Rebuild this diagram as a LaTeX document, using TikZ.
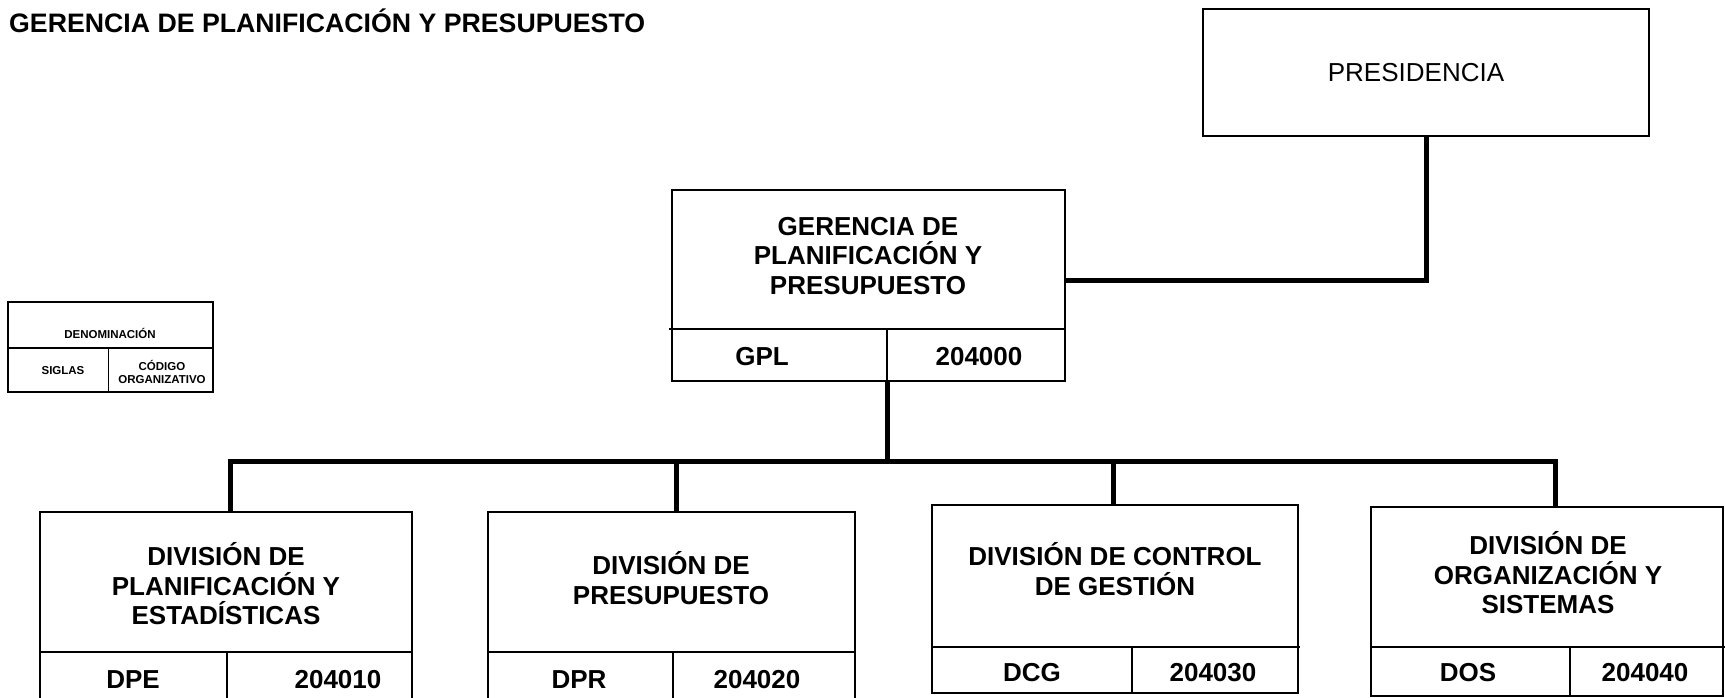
\documentclass[tikz,border=0pt]{standalone}
\usepackage{fontspec}
\setmainfont{Liberation Sans}
\begin{document}
\begin{tikzpicture}[x=1pt,y=-1pt,
  unitbox/.style={draw, line width=2.5pt},
  divline/.style={line width=1.5pt},
  conn/.style={line width=5pt},
  big/.style={font=\bfseries\fontsize{26}{29.5}\selectfont, align=center, inner sep=0pt},
  small/.style={font=\bfseries\fontsize{11.5}{13.5}\selectfont, align=center, inner sep=0pt}]
\useasboundingbox (0,0) rectangle (1725,697);
% title
\node[anchor=west, inner sep=0pt, font=\bfseries\fontsize{26.7}{30}\selectfont] (title) at (9,21) {GERENCIA DE PLANIFICACIÓN Y PRESUPUESTO};
% boxes
\draw[unitbox] (1203,9) rectangle (1649,136);
\coordinate (presS) at (1426,136);
\node[inner sep=0pt, font=\fontsize{26}{30}\selectfont] (pres) at (1416,73) {PRESIDENCIA};
% legend
\draw[line width=2pt] (8,302) rectangle (213,392);
\draw[line width=2pt] (8,348) -- (213,348);
\draw[line width=1pt] (108,348) -- (108,392);
\node[small] (lden) at (110,333) {DENOMINACIÓN};
\node[small] (lsig) at (63,371) {SIGLAS};
\node[small] (lcod) at (162,372) {CÓDIGO\\ORGANIZATIVO};
% GPL
\draw[unitbox] (672,190) rectangle (1065,381);
\draw[divline] (669,329) -- (1065,329);
\draw[divline] (887,329) -- (887,381);
\node[big] (gpl) at (868,256) {GERENCIA DE\\PLANIFICACIÓN Y\\PRESUPUESTO};
\node[big] (gplS) at (762,357) {GPL};
\node[big] (gplC) at (979,357) {204000};
\coordinate (gplE) at (1065,280);
\coordinate (gplB) at (887,381);
% divisions
\draw[unitbox] (40,512) rectangle (412,700);
\draw[divline] (40,652) -- (412,652);
\draw[divline] (227,652) -- (227,700);
\node[big] (d1) at (226,584) {DIVISIÓN DE\\PLANIFICACIÓN Y\\ESTADÍSTICAS};
\node[big] (d1S) at (133,680) {DPE};
\node[big] (d1C) at (338,680) {204010};
\coordinate (d1T) at (230,512);

\draw[unitbox] (488,512) rectangle (855,700);
\draw[divline] (488,652) -- (855,652);
\draw[divline] (673,652) -- (673,700);
\node[big] (d2) at (671,578) {DIVISIÓN DE\\PRESUPUESTO};
\node[big] (d2S) at (579,680) {DPR};
\node[big] (d2C) at (757,680) {204020};
\coordinate (d2T) at (676,512);

\draw[unitbox] (932,505) rectangle (1298,693);
\draw[divline] (932,647) -- (1300,647);
\draw[divline] (1132,647) -- (1132,693);
\node[big] (d3) at (1115,569) {DIVISIÓN DE CONTROL\\DE GESTIÓN};
\node[big] (d3S) at (1032,673) {DCG};
\node[big] (d3C) at (1213,673) {204030};
\coordinate (d3T) at (1113,505);

\draw[unitbox] (1371,507) rectangle (1723,696);
\draw[divline] (1371,647) -- (1725,647);
\draw[divline] (1570,647) -- (1570,696);
\node[big] (d4) at (1548,573) {DIVISIÓN DE\\ORGANIZACIÓN Y\\SISTEMAS};
\node[big] (d4S) at (1468,673) {DOS};
\node[big] (d4C) at (1645,673) {204040};
\coordinate (d4T) at (1555,507);
% connectors
\draw[conn] (presS) |- (gplE);
\coordinate (busL) at (230,461);
\coordinate (busR) at (1555,461);
\draw[conn] (gplB) -- (gplB |- busL);
\draw[conn] ([xshift=-2.5pt]busL) -- ([xshift=2.5pt]busR);
\draw[conn] (busL) -- (d1T);
\draw[conn] (d2T |- busL) -- (d2T);
\draw[conn] (d3T |- busL) -- (d3T);
\draw[conn] (busR) -- (d4T);
\end{tikzpicture}
\end{document}
